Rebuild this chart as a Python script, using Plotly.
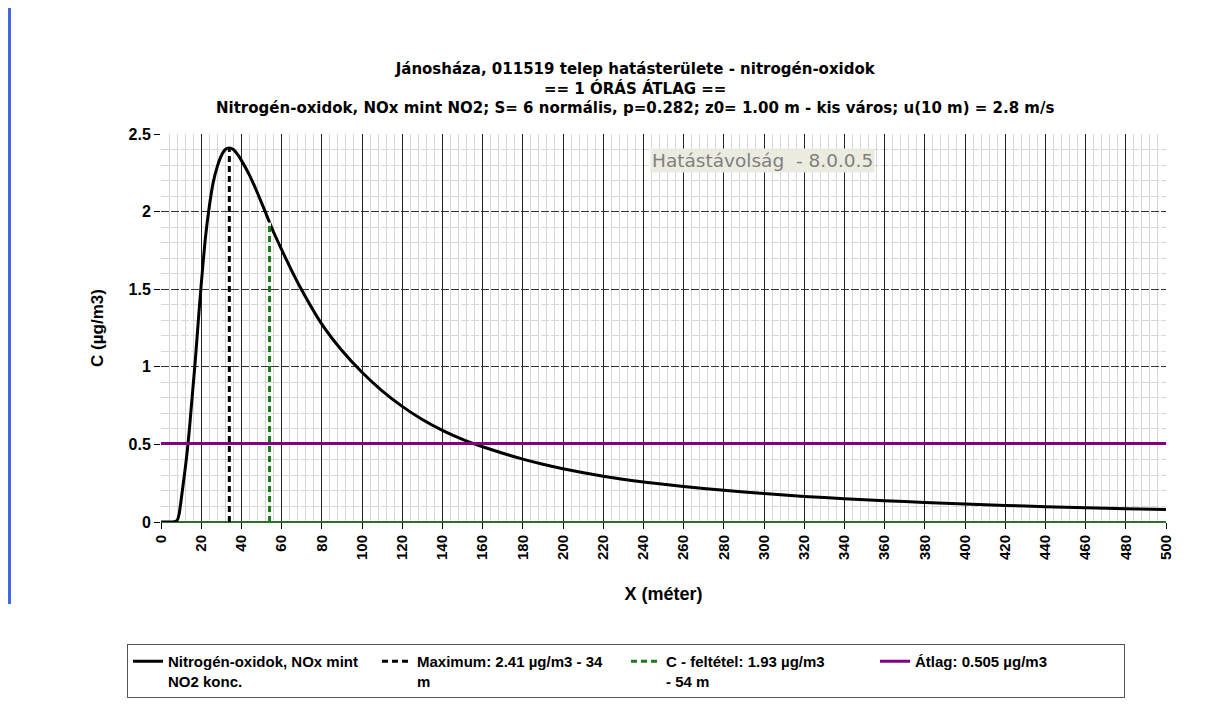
import plotly.graph_objects as go

# ---- data ----
x_m = [0, 4, 6, 8, 9, 10, 11, 12, 13, 14, 15, 16, 17, 18, 19, 20, 22, 24, 26, 28,
       30, 32, 34, 36, 38, 40, 44, 48, 52, 54, 56, 60, 65, 70, 80, 90, 100, 110,
       120, 130, 140, 150, 160, 170, 180, 190, 200, 220, 240, 260, 280, 300, 320,
       340, 360, 380, 400, 420, 440, 460, 480, 500]
c_ug = [0, 0, 0, 0.01, 0.05, 0.14, 0.24, 0.34, 0.45, 0.58, 0.73, 0.88, 1.03, 1.20,
        1.37, 1.53, 1.82, 2.03, 2.19, 2.29, 2.36, 2.40, 2.41, 2.40, 2.37, 2.33,
        2.235, 2.12, 1.995, 1.93, 1.868, 1.755, 1.62, 1.495, 1.275, 1.105, 0.965,
        0.845, 0.745, 0.66, 0.59, 0.532, 0.485, 0.443, 0.405, 0.372, 0.343, 0.295,
        0.258, 0.228, 0.204, 0.183, 0.165, 0.150, 0.137, 0.126, 0.116, 0.107,
        0.099, 0.092, 0.086, 0.081]

max_x, max_c = 34, 2.41
cond_x, cond_c = 54, 1.93
avg_c = 0.505
x_range = [0, 500]
y_range = [0, 2.5]

name_curve = "Nitrogén-oxidok, NOx mint<br>NO2 konc."
name_max = "Maximum: 2.41 µg/m3 - 34<br>m"
name_cond = "C - feltétel: 1.93 µg/m3<br>- 54 m"
name_avg = "Átlag: 0.505 µg/m3"

title_lines = ["Jánosháza, 011519 telep hatásterülete - nitrogén-oxidok",
               "== 1 ÓRÁS ÁTLAG ==",
               "Nitrogén-oxidok, NOx mint NO2; S= 6 normális, p=0.282; z0= 1.00 m - kis város; u(10 m) = 2.8 m/s"]
annot_text = "Hatástávolság  - 8.0.0.5"

# ---- layout geometry (screen pixels; page body has an 8px margin) ----
OFF = 8
SX0, SX1, SY0, SY1 = 161, 1166, 134, 522   # plot area on screen
W, H = 1205, 696
L, T = SX0 - OFF, SY0 - OFF
PW, PH = SX1 - SX0, SY1 - SY0
R, B = W - L - PW, H - T - PH


def px_x(px):
    return (px - SX0) / PW


def px_y(py):
    return (SY1 - py) / PH


FONT = "Liberation Sans, Arial, sans-serif"

fig = go.Figure()

fig.add_trace(go.Scatter(x=x_m, y=c_ug, mode="lines", name=name_curve,
                         line=dict(color="black", width=3, shape="spline", smoothing=0.5)))
# light underlays for dashed verticals
fig.add_trace(go.Scatter(x=[max_x, max_x], y=[0, max_c], mode="lines", showlegend=False,
                         hoverinfo="skip", line=dict(color="white", width=3)))
fig.add_trace(go.Scatter(x=[max_x, max_x], y=[0, max_c], mode="lines", name=name_max,
                         line=dict(color="black", width=3, dash="6px,4px")))
fig.add_trace(go.Scatter(x=[cond_x, cond_x], y=[0, cond_c], mode="lines", showlegend=False,
                         hoverinfo="skip", line=dict(color="#e8f0e8", width=3)))
fig.add_trace(go.Scatter(x=[cond_x, cond_x], y=[0, cond_c], mode="lines", name=name_cond,
                         line=dict(color="#1a7a1a", width=3, dash="6px,4px")))
fig.add_trace(go.Scatter(x=x_range, y=[avg_c, avg_c], mode="lines", name=name_avg,
                         line=dict(color="#800080", width=3)))

fig.update_layout(
    width=W, height=H,
    margin=dict(l=L, r=R, t=T, b=B, autoexpand=False),
    paper_bgcolor="white", plot_bgcolor="white",
    font=dict(family=FONT, color="black"),
    showlegend=True,
    legend=dict(orientation="h", x=px_x(127), y=px_y(644), xanchor="left", yanchor="top",
                bordercolor="#555555", borderwidth=1, bgcolor="white",
                font=dict(family=FONT, size=15, color="black", weight="bold"),
                itemwidth=30, entrywidth=204, entrywidthmode="pixels",
                valign="top", tracegroupgap=0),
    xaxis=dict(range=x_range, dtick=20, tick0=0, tickangle=-90,
               showgrid=True, gridcolor="#222222", gridwidth=1,
               minor=dict(dtick=4, showgrid=True, gridcolor="#d6d6d6", gridwidth=1),
               ticks="outside", ticklen=6, tickcolor="black",
               tickfont=dict(family=FONT, size=15, weight="bold"),
               zeroline=False, showline=False,
               title=dict(text="X (méter)", font=dict(family=FONT, size=18, weight="bold"),
                          standoff=28)),
    yaxis=dict(range=y_range, dtick=0.5, tick0=0,
               showgrid=True, gridcolor="#333333", gridwidth=1, griddash="8px,2px",
               minor=dict(dtick=0.1, showgrid=True, gridcolor="#d6d6d6", gridwidth=1),
               ticks="outside", ticklen=6, tickcolor="black",
               tickfont=dict(family=FONT, size=16, weight="bold"),
               zeroline=True, zerolinecolor="#2e6b2e", zerolinewidth=2,
               showline=False,
               title=dict(text="C (µg/m3)", font=dict(family=FONT, size=17, weight="bold"),
                          standoff=20)),
)

fig.add_annotation(text="<br>".join(title_lines), xref="paper", yref="paper",
                   x=px_x(635), y=px_y(88), xanchor="center", yanchor="middle",
                   showarrow=False, align="center",
                   font=dict(family="DejaVu Sans", size=15, weight="bold", color="black"))

fig.add_annotation(text=annot_text, xref="paper", yref="paper",
                   x=px_x(762), y=px_y(160), xanchor="center", yanchor="middle",
                   showarrow=False, bgcolor="#ecebe0", borderpad=1,
                   font=dict(family="DejaVu Sans", size=18.5, color="#808080"))

# decorative blue bar at the left edge of the page
fig.add_shape(type="rect", xref="paper", yref="paper",
              x0=px_x(8), x1=px_x(11), y0=px_y(604), y1=px_y(8),
              fillcolor="#4169e1", line=dict(width=0), layer="above")

fig.write_html("out.html")
